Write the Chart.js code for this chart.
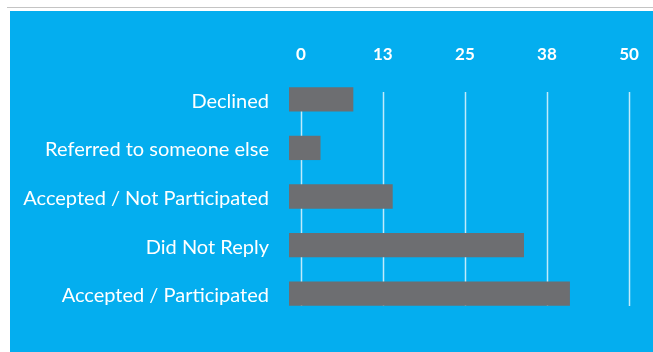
<!DOCTYPE html>
<html>
<head>
<meta charset="utf-8">
<script src="https://cdn.jsdelivr.net/npm/chart.js@4.4.1/dist/chart.umd.min.js"></script>
<style>
  html, body { margin:0; padding:0; background:#fff; width:653px; height:352px; overflow:hidden; }
  #topLine { position:absolute; left:7px; top:7px; width:646px; height:1px; background:#c4c4c4; }
  #panel { position:absolute; left:10px; top:11px; width:643px; height:341px; background:#04aeef; }
</style>
</head>
<body>
<div id="topLine"></div>
<div id="panel"><canvas id="chart"></canvas></div>
<script>
// ----- data -----
const categories = ["Declined", "Referred to someone else", "Accepted / Not Participated", "Did Not Reply", "Accepted / Participated"];
const counts = [8, 3, 14, 34, 41];
const tickValues = [0, 12.5, 25, 37.5, 50];
const xMin = -1.8, xMax = 50;

// gridlines stop short of the plot edges, drawn under the bars
const shortGrid = {
  id: 'shortGrid',
  beforeDatasetsDraw(chart){
    const {ctx, chartArea, scales} = chart;
    ctx.save();
    ctx.strokeStyle = 'rgba(255,255,255,0.75)';
    ctx.lineWidth = 1.5;
    tickValues.forEach(v=>{
      const x = Math.round(scales.x.getPixelForValue(v)) + 0.5;
      ctx.beginPath();
      ctx.moveTo(x, chartArea.top + 17);
      ctx.lineTo(x, chartArea.bottom - 12);
      ctx.stroke();
    });
    ctx.restore();
  }
};

new Chart(document.getElementById('chart'), {
  type: 'bar',
  data: {
    labels: categories,
    datasets: [{ data: counts, base: xMin, backgroundColor: '#6d6e71', borderWidth: 0, barPercentage: 0.5, categoryPercentage: 1 }]
  },
  options: {
    indexAxis: 'y',
    responsive: true,
    maintainAspectRatio: false,
    animation: false,
    layout: { padding: { top: 0, right: 24, bottom: 34, left: 0 } },
    plugins: { legend: { display: false }, tooltip: { enabled: false } },
    scales: {
      x: {
        position: 'top', min: xMin, max: xMax,
        afterBuildTicks: s => { s.ticks = tickValues.map(v=>({value:v})); },
        afterFit: s => { s.height = 64; },
        grid: { display: false }, border: { display: false },
        ticks: { color: '#fff', padding: 2, font: { family: 'Lato', size: 17, weight: 'bold' }, callback: v => Math.round(v) }
      },
      y: {
        afterFit: s => { s.width = 279; },
        grid: { display: false, drawTicks: false }, border: { display: false },
        ticks: { color: '#fff', padding: 20, labelOffset: 2, font: { family: 'Lato', size: 20 } }
      }
    }
  },
  plugins: [shortGrid]
});
</script>
</body>
</html>
